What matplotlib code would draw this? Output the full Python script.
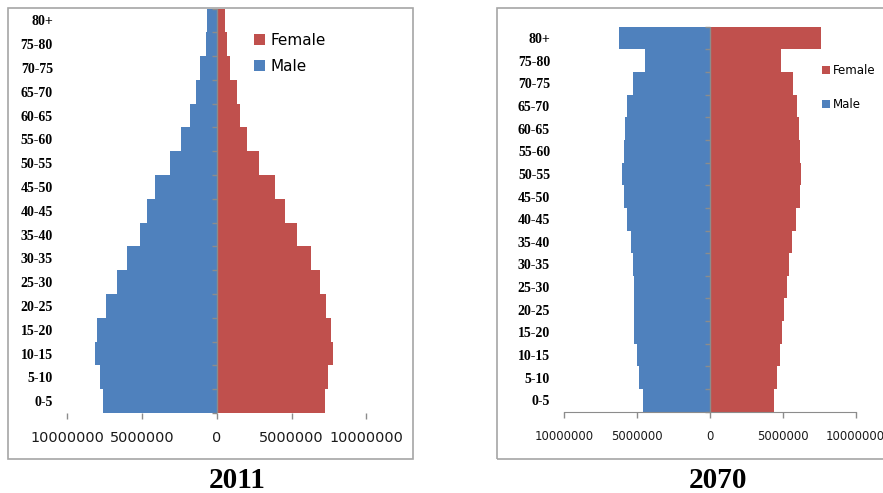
import numpy as np
import matplotlib
matplotlib.use("Agg")
import matplotlib.pyplot as plt
from matplotlib.patches import Rectangle
from matplotlib.ticker import FuncFormatter, FixedLocator

# Age groups, youngest first (bottom of the pyramid)
age_groups = ["0-5", "5-10", "10-15", "15-20", "20-25", "25-30", "30-35", "35-40",
              "40-45", "45-50", "50-55", "55-60", "60-65", "65-70", "70-75", "75-80", "80+"]

# Population by age group, 2011
male_2011 = [7640000, 7840000, 8160000, 7980000, 7400000, 6690000, 6020000, 5130000,
             4690000, 4110000, 3160000, 2380000, 1800000, 1420000, 1110000, 730000, 650000]
female_2011 = [7240000, 7440000, 7760000, 7620000, 7310000, 6930000, 6290000, 5380000,
               4560000, 3870000, 2820000, 2000000, 1560000, 1360000, 890000, 670000, 580000]

# Projected population by age group, 2070
male_2070 = [4590000, 4840000, 5020000, 5230000, 5200000, 5230000, 5300000, 5430000,
             5710000, 5890000, 6030000, 5890000, 5840000, 5710000, 5300000, 4430000, 6210000]
female_2070 = [4430000, 4590000, 4820000, 4980000, 5070000, 5300000, 5430000, 5620000,
               5890000, 6160000, 6230000, 6160000, 6100000, 6000000, 5680000, 4910000, 7600000]

x_ticks = [-10000000, -5000000, 0, 5000000, 10000000]

W, H = 883, 493
BLUE = "#4F81BD"
RED = "#C0504D"
GRAY = "#8C8C8C"
FRAME = "#A6A6A6"
SERIF = ["Liberation Serif", "DejaVu Serif"]

fig = plt.figure(figsize=(W / 100, H / 100), dpi=100)


def box(left, top, right, bottom):
    """Figure-fraction rectangle from pixel edges (origin at top-left)."""
    return [left / W, 1 - bottom / H, (right - left) / W, (bottom - top) / H]


def pyramid(ax, male, female, xlim, label_pad, tick_font, tick_pad, bottom_line):
    y = np.arange(len(age_groups))
    ax.barh(y, -np.asarray(male), height=1.0, color=BLUE, linewidth=0, label="Male")
    ax.barh(y, female, height=1.0, color=RED, linewidth=0, label="Female")
    ax.set_xlim(*xlim)
    ax.set_ylim(-0.5, len(age_groups) - 0.5)

    # vertical category axis drawn through zero, ticks between categories
    ax.axvline(0, color=GRAY, lw=1.0, zorder=3)
    bounds = np.arange(len(age_groups) + 1) - 0.5
    ax.plot(np.zeros_like(bounds), bounds, ls="none", marker=0, ms=3.8,
            mec=GRAY, mew=1.0, zorder=3, clip_on=False)

    ax.set_yticks(y)
    ax.set_yticklabels(age_groups, fontfamily=SERIF, fontweight="bold", fontsize=10)
    ax.tick_params(axis="y", length=0, pad=label_pad)

    ax.xaxis.set_major_locator(FixedLocator(x_ticks))
    ax.xaxis.set_major_formatter(FuncFormatter(lambda v, p: f"{abs(int(v))}"))
    ax.tick_params(axis="x", direction="out", length=4.5, width=1.0, color=GRAY,
                   labelsize=tick_font, pad=tick_pad, labelcolor="#1a1a1a")
    for s in ("left", "right", "top"):
        ax.spines[s].set_visible(False)
    ax.spines["bottom"].set_visible(bottom_line)
    ax.spines["bottom"].set_color(GRAY)
    ax.patch.set_alpha(0)


# outer chart frames
fig.add_artist(Rectangle((8 / W, 1 - 459 / H), 405 / W, 451 / H, transform=fig.transFigure,
                         fill=False, ec=FRAME, lw=1.2))
fig.add_artist(Rectangle((497 / W, 1 - 459 / H), 420 / W, 451 / H, transform=fig.transFigure,
                         fill=False, ec=FRAME, lw=1.2))

# 2011
ax1 = fig.add_axes(box(56, 8.5, 400, 413))
pyramid(ax1, male_2011, female_2011, (-10.75e6, 12.25e6), label_pad=2.2,
        tick_font=10.4, tick_pad=8.5, bottom_line=False)
h, l = ax1.get_legend_handles_labels()
fig.legend([h[1], h[0]], [l[1], l[0]], loc="upper left",
           bbox_to_anchor=(254 / W, 1 - 33 / H), frameon=False, fontsize=11,
           handlelength=0.75, handleheight=0.75, handletextpad=0.3,
           labelspacing=0.72, borderpad=0, borderaxespad=0)
fig.text(237 / W, 1 - 488 / H, "2011", ha="center", va="baseline",
         fontfamily=SERIF, fontweight="bold", fontsize=21)

# 2070
ax2 = fig.add_axes(box(564, 26.7, 855.7, 411.7))
pyramid(ax2, male_2070, female_2070, (-10e6, 10e6), label_pad=10,
        tick_font=8.4, tick_pad=8.5, bottom_line=True)
h, l = ax2.get_legend_handles_labels()
fig.legend([h[1], h[0]], [l[1], l[0]], loc="upper left",
           bbox_to_anchor=(822 / W, 1 - 64 / H), frameon=False, fontsize=8.5,
           handlelength=0.7, handleheight=0.7, handletextpad=0.2,
           labelspacing=1.78, borderpad=0, borderaxespad=0)
fig.text(718 / W, 1 - 488 / H, "2070", ha="center", va="baseline",
         fontfamily=SERIF, fontweight="bold", fontsize=21)

fig.savefig("out.png", dpi=100)
